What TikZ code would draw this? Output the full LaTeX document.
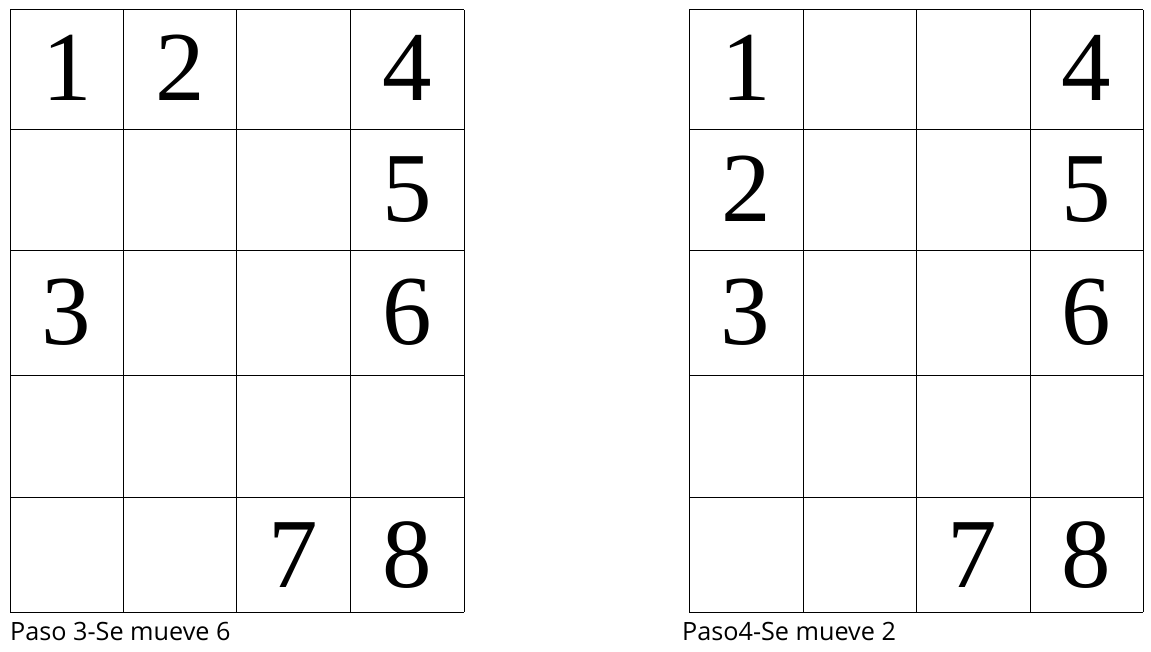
\documentclass[tikz,border=0pt]{standalone}
\usepackage{fontspec}
\setmainfont{Liberation Serif}
\newfontfamily\capfont{Open Sans}
\begin{document}
\begin{tikzpicture}[x=1pt,y=-1pt,
  cellline/.style={draw=black,line width=1pt},
  digit/.style={anchor=base,inner sep=0pt,font=\fontsize{99}{99}\selectfont},
  caption/.style={anchor=base west,inner sep=0pt,font=\capfont\fontsize{25.2}{26}\selectfont}]
\useasboundingbox[fill=white] (0,0) rectangle (1151,652);
% left grid
\foreach \x in {10,123,236,350,464} \draw[cellline] (\x,10) -- (\x,612);
\foreach \y in {10,130,251,375,497,612} \draw[cellline] (10,\y) -- (464,\y);
% right grid
\foreach \x in {689,803,916,1030,1143} \draw[cellline] (\x,10) -- (\x,612);
\foreach \y in {10,130,251,375,497,612} \draw[cellline] (689,\y) -- (1143,\y);
% left digits
\node[digit] (l1) at (67,101) {1};
\node[digit] (l2) at (180,101) {2};
\node[digit] (l4) at (407,101) {4};
\node[digit] (l5) at (407,222) {5};
\node[digit] (l3) at (66,344) {3};
\node[digit] (l6) at (407,344) {6};
\node[digit] (l7) at (293,587) {7};
\node[digit] (l8) at (407,587) {8};
% right digits
\node[digit] (r1) at (746,101) {1};
\node[digit] (r4) at (1086,101) {4};
\node[digit] (r2) at (746,222) {2};
\node[digit] (r5) at (1086,222) {5};
\node[digit] (r3) at (745,344) {3};
\node[digit] (r6) at (1086,344) {6};
\node[digit] (r7) at (972,587) {7};
\node[digit] (r8) at (1086,587) {8};
% captions
\node[caption] (c1) at (10,640) {Paso 3-Se mueve 6};
\node[caption] (c2) at (682,640) {Paso4-Se mueve 2};
\end{tikzpicture}
\end{document}
